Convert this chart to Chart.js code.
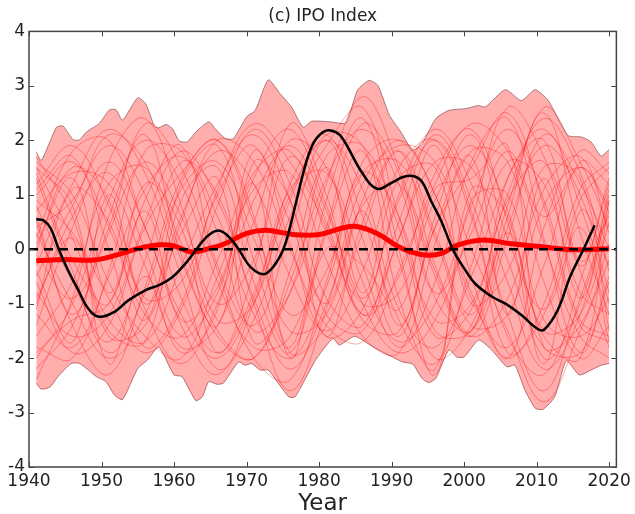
<!DOCTYPE html>
<html>
<head>
<meta charset="utf-8">
<script src="https://cdn.jsdelivr.net/npm/chart.js@4/dist/chart.umd.min.js"></script>
<style>
  body { margin: 0; background: #fff; }
  canvas { display: block; }
</style>
</head>
<body>
<canvas id="ipo-chart" width="635" height="514"></canvas>
<script>
// axis ticks
const xTicks = [1940, 1950, 1960, 1970, 1980, 1990, 2000, 2010, 2020];
const yTicks = [-4, -3, -2, -1, 0, 1, 2, 3, 4];

// ensemble spread (upper and lower edge of the shaded band)
const upperYears = [1941, 1941.7, 1943.8, 1944.7, 1946.1, 1947, 1947.9, 1949.7, 1951.1, 1952, 1952.9, 1955, 1956.1, 1957.3, 1957.9, 1958.9, 1959.8, 1960.7, 1961.8, 1963, 1964.8, 1965.7, 1967.1, 1968.2, 1970, 1971.2, 1973, 1974.6, 1976.2, 1977.8, 1979, 1981.5, 1983.7, 1985.3, 1986.9, 1988.1, 1989.7, 1991.3, 1992.9, 1994.2, 1996.1, 1997.9, 2000.2, 2002, 2002.9, 2005.7, 2007.9, 2009.8, 2011.6, 2014.3, 2016.2, 2017.5, 2018.9, 2020];
const upperValues = [1.79, 1.63, 2.24, 2.26, 2.01, 2.01, 2.15, 2.31, 2.56, 2.56, 2.37, 2.78, 2.67, 2.26, 2.23, 2.29, 2.21, 1.99, 1.97, 2.15, 2.34, 2.21, 2.03, 2.03, 2.43, 2.55, 3.11, 2.86, 2.61, 2.24, 2.35, 2.34, 2.32, 2.92, 3.10, 3.01, 2.46, 2.15, 1.82, 1.94, 2.40, 2.55, 2.58, 2.64, 2.61, 2.93, 2.73, 2.93, 2.73, 2.09, 2.06, 1.97, 1.71, 1.83];
const lowerYears = [1941, 1941.7, 1942.9, 1944, 1945.8, 1947, 1949.3, 1950.6, 1951.8, 1952.9, 1955, 1956.3, 1957.9, 1960, 1961.1, 1963, 1963.9, 1964.8, 1965.9, 1966.8, 1968.9, 1969.8, 1970.7, 1971.9, 1973, 1975.8, 1976.7, 1979.5, 1981.9, 1982.8, 1984.9, 1987.4, 1990.1, 1991.5, 1992.9, 1994.2, 1995.1, 1996.1, 1997.9, 1999, 2000, 2002, 2003.8, 2005.9, 2007, 2008.4, 2009.8, 2010.9, 2012.5, 2014.1, 2015.9, 2017.5, 2018.9, 2020];
const lowerValues = [-2.46, -2.57, -2.53, -2.34, -2.10, -2.10, -2.34, -2.43, -2.68, -2.76, -2.19, -2.04, -1.80, -2.31, -2.34, -2.78, -2.71, -2.43, -2.48, -2.46, -2.07, -2.13, -2.10, -2.22, -2.22, -2.71, -2.71, -2.04, -1.64, -1.76, -1.60, -1.79, -1.98, -2.07, -2.11, -2.37, -2.45, -2.37, -1.85, -1.98, -1.98, -1.67, -1.85, -2.16, -2.13, -2.59, -2.92, -2.94, -2.71, -2.05, -2.31, -2.22, -2.13, -2.10];

// individual ensemble members (thin red lines)
const memberYears = [1941, 1946, 1951, 1956, 1961, 1966, 1971, 1976, 1981, 1986, 1991, 1996, 2001, 2006, 2011, 2016, 2020];
const members = [
    [1.0, 1.6, 0.4, -1.2, -1.6, -0.2, 1.4, 1.8, 0.3, -1.0, -0.8, 0.9, 1.9, 0.7, -1.5, -1.2, 0.5],
    [-1.2, -1.8, -0.5, 1.1, 1.7, 0.6, -1.2, -2.0, -0.7, 1.4, 1.6, 0.2, -1.4, -1.2, 0.8, 1.5, 0.8],
    [0.3, -1.0, -2.0, -1.2, 0.6, 1.8, 1.2, -0.5, -1.5, -0.4, 1.5, 2.0, 0.6, -1.6, -2.3, -0.6, 1.2],
    [-0.5, 0.8, 1.9, 1.0, -0.9, -1.9, -0.8, 1.0, 2.0, 1.1, -1.1, -1.8, -0.5, 1.3, 2.2, 0.8, -1.0],
    [1.5, 0.2, -1.3, -1.7, -0.3, 1.2, 2.1, 0.9, -1.2, -1.5, 0.2, 1.6, 1.5, -0.2, -1.8, -1.9, -0.6],
    [-2.0, -1.0, 0.9, 2.0, 1.2, -0.6, -1.8, -1.6, 0.4, 2.3, 1.4, -0.9, -1.5, 0.4, 1.9, 1.0, -0.8],
    [0.7, 1.4, 1.2, -0.3, -1.8, -1.4, 0.5, 2.0, 1.5, -0.6, -1.7, -1.0, 0.8, 2.2, 0.9, -1.3, -1.6],
    [-1.6, -0.6, 1.2, 1.5, 0.1, -1.5, -2.0, -0.4, 1.7, 1.9, 0.4, -1.6, -1.1, 0.9, 1.6, -0.4, -1.8],
    [1.3, -0.4, -1.9, -0.8, 1.1, 1.6, 0.2, -1.5, -1.2, 0.9, 2.0, 1.0, -0.9, -1.8, -0.3, 1.6, 1.2],
    [-0.8, -1.6, -1.2, 0.5, 1.8, 0.9, -0.9, -2.2, -1.0, 0.8, 1.2, -0.4, -1.6, 0.2, 2.1, 1.2, 0.0],
    [0.2, 1.8, 2.0, 0.4, -1.2, -2.0, -0.9, 1.1, 1.4, -0.3, -1.8, -0.6, 1.6, 2.4, 0.2, -1.9, -0.5],
    [-2.2, -1.4, 0.3, 1.6, 0.6, -1.0, -0.2, 1.7, 0.5, -1.2, -0.5, 1.4, 2.2, 0.5, -2.0, -1.0, 1.0],
    [0.9, 0.3, -0.9, -1.9, -1.1, 0.8, 2.2, 1.2, -0.9, -1.4, 0.5, 2.1, 0.9, -1.2, -2.6, -0.9, 0.7],
    [-0.3, 1.2, 2.2, 1.4, -0.5, -2.2, -1.3, 0.6, 1.9, 2.6, 0.6, -1.3, -1.0, 1.0, 2.4, 1.4, -0.4],
    [1.6, 1.0, -0.6, -1.6, -2.0, -0.5, 1.1, 1.4, -0.2, -1.6, -1.9, 0.1, 1.8, 1.6, -0.6, -2.0, -1.4],
    [-1.0, 0.6, 1.4, 0.0, -1.6, -0.8, 1.3, 2.2, 0.8, -0.9, 0.9, 2.0, 0.7, -1.9, -1.2, 0.9, 1.5],
    [0.5, -1.4, -2.3, -0.7, 1.3, 2.0, 0.6, -1.9, -1.4, 0.3, 1.8, 0.3, -1.2, 0.8, 2.5, 0.3, -1.2],
    [-1.8, -2.0, -0.4, 1.8, 1.8, 0.3, -1.5, -0.8, 1.2, 2.8, 1.5, -0.5, -1.6, -0.9, 1.1, 1.7, 0.3],
    [1.2, 1.9, 0.8, -0.9, -0.6, 1.0, 1.9, 0.1, -1.6, -1.1, 1.0, 2.2, 1.2, -0.6, -2.2, -1.2, 0.9],
    [-0.1, -0.9, 0.4, 2.3, 1.5, -0.4, -2.0, -2.4, -0.6, 1.6, 2.0, 1.0, -0.8, -2.0, -1.0, 1.1, 1.6],
    [1.7, 0.6, -1.6, -1.4, 0.5, 2.0, 1.6, 0.0, -1.4, -1.7, -0.4, 1.2, 2.3, 1.8, 0.1, -1.6, -2.0],
    [-2.4, -0.9, 1.6, 2.4, 0.8, -1.3, -1.0, 1.2, 2.1, 0.6, -1.3, -2.1, -0.3, 1.6, 1.2, -0.8, -1.2],
    [0.0, 1.5, 0.9, -1.1, -2.1, -1.0, 0.9, 1.9, 0.7, -1.0, -1.9, -1.3, 0.5, 2.6, 1.7, -0.2, 0.6],
    [0.8, -0.6, -1.7, -0.2, 1.6, 1.0, -1.0, -2.6, -1.1, 1.2, 1.9, 1.6, 0.0, -1.5, -2.8, -1.5, -0.2],
    [-1.4, 0.4, 1.6, 0.4, -1.4, -2.3, -1.0, 0.9, 2.1, 1.9, -0.2, -2.0, -1.4, 0.6, 2.6, 1.6, 0.4],
    [1.1, 1.7, 0.0, -1.8, -1.0, 1.1, 2.3, 1.6, 0.4, -1.3, -1.5, 0.4, 1.5, 2.5, 0.8, -1.4, -1.7],
    [-0.6, -1.9, -1.4, 0.4, 1.4, 2.0, 0.5, -1.2, -0.4, 1.4, 0.6, -1.5, -1.5, 0.3, -1.6, -2.0, 0.9],
    [0.4, 0.9, 2.1, 1.6, -0.2, -1.6, -2.0, -0.6, 1.3, 2.2, 1.2, -0.8, 0.3, 1.8, 0.6, 1.5, 0.7],
    [-1.9, -1.3, -1.0, 0.9, 1.9, -0.3, -1.4, 0.3, 2.0, 0.2, -1.6, 0.6, 2.1, 0.2, -1.1, 0.4, -1.7],
    [1.4, -0.2, -1.0, 1.2, 0.4, -1.9, -0.4, 2.3, 1.0, -1.2, 0.2, 1.9, -0.5, -2.0, 0.4, 1.8, 1.4],
    [-0.9, 0.2, -1.5, -1.7, 0.9, 1.5, -0.6, -1.9, 0.3, 1.8, -0.9, -2.2, 0.9, 1.0, -1.3, -1.6, -0.9],
    [0.6, -1.2, 0.6, 2.1, -0.1, -1.4, 1.6, 0.9, -1.6, 0.5, 1.8, -0.3, -1.5, 1.3, 2.0, -0.3, 1.3],
    [-1.1, 1.1, 0.5, -1.3, 1.2, 1.9, -0.2, -1.8, 0.9, 2.4, 0.0, -2.3, 1.1, 0.6, -2.1, 0.7, -0.3],
    [1.5, 0.8, -2.1, -0.5, -1.9, -1.1, 1.8, 0.5, -1.0, 0.7, -1.4, 0.4, 1.7, -1.2, 1.3, -0.9, 1.1],
    [-0.4, -1.7, 1.0, -1.0, 0.3, 1.3, -1.7, -0.8, 1.5, -0.8, 1.3, 1.5, -1.0, -0.4, 1.5, 1.3, -1.5],
    [0.1, 1.3, -0.8, 0.7, -1.3, -0.7, 1.2, -2.0, 0.0, -0.3, -1.1, 1.1, 1.3, 1.9, -1.8, -1.4, 0.1]
];

// ensemble mean (thick red)
const meanYears = [1941, 1945, 1949, 1952, 1955, 1958, 1960, 1962.5, 1965, 1967, 1970, 1972.5, 1975, 1977.5, 1980, 1983, 1985, 1988, 1990.5, 1992.6, 1995, 1997, 1999, 2002.5, 2006.5, 2011, 2015, 2020];
const meanValues = [-0.21, -0.19, -0.20, -0.11, 0.01, 0.08, 0.06, -0.05, 0.02, 0.10, 0.29, 0.35, 0.30, 0.26, 0.27, 0.38, 0.42, 0.29, 0.08, -0.05, -0.11, -0.07, 0.07, 0.17, 0.10, 0.04, -0.01, 0.01];

// observed IPO (black)
const obsYears = [1941, 1942, 1943, 1944.1, 1945.4, 1946.8, 1948.1, 1949.6, 1951.8, 1953.7, 1956.1, 1957.9, 1959.8, 1961.6, 1963.0, 1964.3, 1965.9, 1967.3, 1968.9, 1970.5, 1972.3, 1973.7, 1975.1, 1976.0, 1976.9, 1977.8, 1978.7, 1979.6, 1980.8, 1981.9, 1983.1, 1986, 1988.0, 1990.0, 1991.7, 1993.1, 1994.2, 1995.4, 1996.8, 1997.9, 1998.6, 2000.2, 2001.5, 2003.8, 2005.7, 2007.9, 2010.2, 2011.1, 2012.9, 2014.6, 2016.4, 2018];
const obsValues = [0.55, 0.53, 0.38, 0.0, -0.39, -0.75, -1.08, -1.24, -1.15, -0.94, -0.75, -0.66, -0.51, -0.26, -0.02, 0.20, 0.34, 0.26, 0.0, -0.32, -0.46, -0.32, 0.01, 0.41, 0.90, 1.39, 1.79, 2.03, 2.17, 2.17, 2.06, 1.39, 1.11, 1.22, 1.33, 1.34, 1.24, 0.90, 0.53, 0.17, -0.05, -0.39, -0.63, -0.87, -1.00, -1.21, -1.47, -1.47, -1.12, -0.51, -0.02, 0.44];

// zero reference line
const zeroYears = [1940, 2021];
const zeroValues = [0, 0];

function pts(xs, ys) {
    return xs.map((x, i) => ({ x: x, y: ys[i] }));
}

const datasets = [];
datasets.push({
    data: pts(upperYears, upperValues),
    borderColor: 'rgba(150, 85, 85, 0.75)',
    borderWidth: 1,
    backgroundColor: 'rgba(255, 0, 0, 0.32)',
    fill: '+1',
    tension: 0.2,
    pointRadius: 0,
    order: 5
});
datasets.push({
    data: pts(lowerYears, lowerValues),
    borderColor: 'rgba(150, 85, 85, 0.75)',
    borderWidth: 1,
    fill: false,
    tension: 0.2,
    pointRadius: 0,
    order: 5
});
members.forEach(m => {
    datasets.push({
        data: pts(memberYears, m),
        borderColor: 'rgba(255, 0, 0, 0.34)',
        borderWidth: 1,
        fill: false,
        tension: 0.4,
        pointRadius: 0,
        order: 4
    });
});
datasets.push({
    data: pts(meanYears, meanValues),
    borderColor: '#ff0000',
    borderWidth: 5,
    fill: false,
    tension: 0.4,
    pointRadius: 0,
    order: 3
});
datasets.push({
    data: pts(zeroYears, zeroValues),
    borderColor: '#000',
    borderWidth: 2.5,
    borderDash: [9, 6],
    fill: false,
    pointRadius: 0,
    order: 2
});
datasets.push({
    data: pts(obsYears, obsValues),
    borderColor: '#000',
    borderWidth: 2.5,
    fill: false,
    tension: 0.4,
    pointRadius: 0,
    order: 1
});

// matplotlib-ish frame with inward ticks on all four sides
const frame = {
    id: 'frame',
    afterDatasetsDraw(chart) {
        const { ctx, chartArea: a, scales } = chart;
        ctx.save();
        ctx.strokeStyle = '#444';
        ctx.lineWidth = 1.5;
        ctx.strokeRect(a.left, a.top, a.right - a.left, a.bottom - a.top);
        ctx.lineWidth = 1;
        ctx.beginPath();
        xTicks.forEach(v => {
            const x = Math.round(scales.x.getPixelForValue(v)) + 0.5;
            ctx.moveTo(x, a.bottom); ctx.lineTo(x, a.bottom - 5);
            ctx.moveTo(x, a.top); ctx.lineTo(x, a.top + 5);
        });
        yTicks.forEach(v => {
            const y = Math.round(scales.y.getPixelForValue(v)) + 0.5;
            ctx.moveTo(a.left, y); ctx.lineTo(a.left + 5, y);
            ctx.moveTo(a.right, y); ctx.lineTo(a.right - 5, y);
        });
        ctx.stroke();
        ctx.restore();
    }
};

const font = 'DejaVu Sans';
new Chart(document.getElementById('ipo-chart').getContext('2d'), {
    type: 'line',
    data: { datasets: datasets },
    options: {
        responsive: false,
        animation: false,
        layout: { padding: { left: 0, right: 13, top: 0, bottom: 0 } },
        scales: {
            x: {
                type: 'linear',
                min: 1940,
                max: 2021,
                afterBuildTicks: s => { s.ticks = xTicks.map(v => ({ value: v })); },
                afterFit: s => { s.height = 47; },
                grid: { display: false, drawTicks: false },
                border: { display: false },
                ticks: { color: '#222', padding: 4, maxRotation: 0, font: { family: font, size: 17 }, callback: v => String(v) },
                title: { display: true, text: 'Year', color: '#222', padding: 0, font: { family: font, size: 23, lineHeight: 0.85 } }
            },
            y: {
                type: 'linear',
                min: -4,
                max: 4,
                afterBuildTicks: s => { s.ticks = yTicks.map(v => ({ value: v })); },
                afterFit: s => { s.width = 29; },
                grid: { display: false, drawTicks: false },
                border: { display: false },
                ticks: { color: '#222', padding: 4, font: { family: font, size: 17 }, callback: v => String(v) }
            }
        },
        plugins: {
            legend: { display: false },
            tooltip: { enabled: false },
            title: {
                display: true,
                text: '(c) IPO Index',
                fullSize: false,
                color: '#222',
                padding: { top: 6, bottom: 5 },
                font: { family: font, size: 17, weight: 'normal' }
            }
        }
    },
    plugins: [frame]
});
</script>
</body>
</html>
